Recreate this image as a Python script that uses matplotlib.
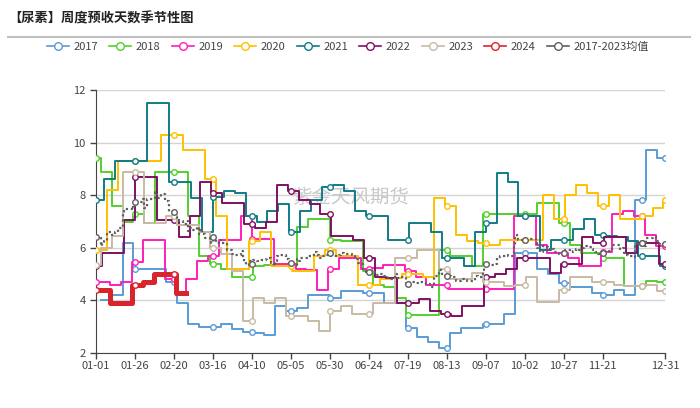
import numpy as np
import pandas as pd
import matplotlib
matplotlib.use('Agg')
import matplotlib.pyplot as plt
from matplotlib.lines import Line2D

plt.rcParams['font.family'] = ['Noto Sans CJK SC', 'DejaVu Sans']

title = '【尿素】周度预收天数季节性图'
watermark = '紫金天风期货'

# x axis: calendar days of a leap year, labels every 25 days
dates = pd.date_range('2024-01-01', '2024-12-31')
tick_idx = list(range(0, 330, 25)) + [365]
tick_labels = [dates[i].strftime('%m-%d') for i in tick_idx]
marker_idx = list(range(0, 365, 25)) + [365]

years = ['2017', '2018', '2019', '2020', '2021', '2022', '2023', '2024']
colors = ['#5b9bd5', '#53cf2f', '#ff1fb9', '#ffc000', '#117c86', '#7e1162', '#c8baa4', '#d9242b']
avg_label = '2017-2023均值'

# first day (day index) of each weekly series, then weekly values
starts = [3, -4.5, -5.5, 0, -2, -3, -4.5, -5]

v2017 = [4.0, 4.2, 6.2, 5.2, 5.2, 5.2, 4.7, 3.9, 3.1, 3.0, 3.0, 3.1, 2.9, 2.8, 2.75, 2.7, 3.8, 3.6,
         3.7, 4.2, 4.2, 4.1, 4.35, 4.35, 4.3, 4.3, 3.9, 3.9, 2.95, 2.6, 2.4, 2.2, 2.75, 2.95, 2.95,
         3.1, 3.1, 3.5, 5.8, 5.8, 5.2, 5.0, 4.65, 4.5, 4.5, 4.3, 4.2, 4.4, 4.2, 7.8, 9.7, 9.4]
v2018 = [9.4, 8.9, 7.6, 7.0, 7.3, 6.95, 8.9, 8.9, 8.9, 7.2, 5.7, 5.4, 5.2, 4.9, 4.9, 5.3, 5.35, 5.4,
         5.4, 6.8, 7.1, 7.1, 6.3, 6.25, 6.25, 5.1, 4.6, 4.5, 4.1, 3.45, 3.45, 3.45, 5.9, 5.7, 5.7,
         5.3, 7.3, 7.3, 7.3, 7.3, 7.3, 7.7, 7.7, 6.95, 6.1, 5.8, 5.8, 5.6, 5.6, 4.55, 4.55, 4.75, 4.7]
v2019 = [4.7, 4.7, 4.6, 4.7, 5.45, 6.3, 6.3, 4.8, 4.2, 4.8, 5.5, 5.7, 6.3, 6.3, 7.2, 6.35, 6.35, 5.4,
         5.4, 5.2, 5.15, 4.4, 5.2, 5.6, 5.6, 5.2, 5.25, 5.35, 5.35, 5.1, 4.9, 4.6, 4.6, 4.45, 4.45,
         4.45, 4.45, 4.45, 4.45, 7.2, 7.2, 6.1, 5.8, 5.8, 5.6, 5.3, 5.3, 5.85, 7.3, 7.4, 7.2, 6.5, 6.05]
v2020 = [5.9, 8.2, 9.3, 9.3, 9.3, 9.3, 10.3, 10.3, 9.7, 9.7, 8.6, 7.2, 5.2, 5.2, 6.25, 6.6, 5.3, 5.3,
         5.1, 5.1, 5.7, 5.9, 5.7, 5.7, 4.6, 4.6, 4.8, 4.85, 5.0, 5.0, 4.9, 7.9, 7.6, 6.5, 6.25, 6.2,
         6.1, 6.3, 6.3, 6.3, 6.3, 8.0, 7.1, 8.0, 8.4, 8.1, 7.6, 8.0, 7.1, 7.1, 7.2, 7.5, 7.8]
v2021 = [7.8, 8.6, 9.3, 9.3, 9.3, 11.5, 11.5, 8.5, 8.5, 7.9, 6.6, 7.95, 8.15, 8.1, 7.2, 7.0, 7.4, 7.65,
         6.6, 7.4, 7.8, 8.3, 8.4, 8.15, 7.4, 7.2, 7.2, 6.3, 6.3, 6.95, 6.95, 6.6, 5.6, 5.6, 5.3, 6.6,
         6.95, 8.85, 8.5, 7.2, 7.2, 5.9, 6.3, 6.3, 6.7, 7.1, 6.5, 6.45, 6.4, 6.25, 5.7, 5.7, 5.3]
v2022 = [5.3, 5.8, 5.8, 7.05, 8.7, 8.7, 7.05, 7.05, 6.4, 7.2, 8.5, 8.1, 7.7, 7.7, 6.9, 6.75, 7.0, 8.4,
         8.15, 7.8, 7.65, 7.3, 6.45, 6.45, 6.3, 5.6, 4.9, 4.85, 3.9, 3.9, 4.05, 3.6, 3.5, 3.4, 3.8, 3.8,
         4.9, 5.0, 5.2, 5.6, 5.6, 5.6, 5.05, 5.4, 5.4, 6.4, 6.2, 6.4, 6.4, 5.8, 6.2, 6.2, 5.4]
v2023 = [5.35, 6.0, 6.45, 8.9, 8.9, 6.95, 6.95, 7.2, 6.85, 6.85, 6.6, 6.0, 5.75, 5.1, 3.2, 4.1, 3.9, 4.1,
         3.4, 3.4, 3.2, 2.85, 3.6, 3.8, 3.5, 3.5, 3.9, 3.9, 5.6, 5.6, 5.9, 5.9, 5.2, 4.8, 4.8, 5.05,
         4.7, 4.7, 4.55, 4.6, 4.9, 3.95, 3.95, 4.4, 4.9, 4.9, 4.7, 4.7, 4.6, 4.55, 4.55, 4.6, 4.35]
v2024 = [4.4, 4.4, 3.9, 3.9, 4.6, 4.7, 5.0, 5.0, 4.3]

weekly = [v2017, v2018, v2019, v2020, v2021, v2022, v2023, v2024]

x = np.arange(len(dates))


def daily(values, start):
    """forward fill weekly values over calendar days"""
    out = np.full(len(x), np.nan)
    k = np.floor((x - start) / 7).astype(int)
    ok = (k >= 0) & (k < len(values))
    out[ok] = np.asarray(values)[k[ok]]
    return out


series = [daily(v, s) for v, s in zip(weekly, starts)]
avg = np.nanmean(np.vstack(series[:7]), axis=0)

fig = plt.figure(figsize=(7, 4.08), dpi=100)
ax = fig.add_axes([96 / 700, 1 - 353 / 408, 569 / 700, 263 / 408])

ax.text(0.448, 0.59, watermark, transform=ax.transAxes, fontsize=14, color='#c8c8c8',
        ha='center', va='center', zorder=1)

for i in range(7):
    ax.plot(x, series[i], drawstyle='steps-post', color=colors[i], lw=1.4, zorder=3,
            marker='o', markevery=marker_idx, ms=4, mfc='white', mec=colors[i], mew=1)
ax.plot(x, avg, drawstyle='steps-post', color='#5f5f5f', lw=1.6, ls=(0, (1, 1.3)), zorder=4,
        marker='o', markevery=marker_idx, ms=4, mfc='white', mec='#5f5f5f', mew=1)
ax.plot(x, series[7], drawstyle='steps-post', color=colors[7], lw=3.6, zorder=5,
        marker='o', markevery=marker_idx, ms=4, mfc='white', mec=colors[7], mew=1)

ax.set_xlim(0, 365)
ax.set_ylim(2, 12)
ax.set_yticks([2, 4, 6, 8, 10, 12])
ax.set_xticks(tick_idx)
ax.set_xticklabels(tick_labels)
ax.yaxis.grid(True, color='#d4d4d4', lw=1)
ax.set_axisbelow(True)
for side in ['top', 'right']:
    ax.spines[side].set_visible(False)
for side in ['left', 'bottom']:
    ax.spines[side].set_color('#444444')
ax.tick_params(axis='both', labelsize=8, colors='#444444', length=4, width=1)
ax.tick_params(axis='x', pad=2)

fig.text(8 / 700, 1 - 18 / 408, title, fontsize=9.5, fontweight='bold', va='center', color='#222222')
fig.add_artist(Line2D([8 / 700, 690 / 700], [1 - 37 / 408] * 2, color='#c0c0c0', lw=1.5))

handles = [Line2D([], [], color=c, lw=1.2, marker='o', ms=5.5, mfc='white', mec=c) for c in colors]
handles.append(Line2D([], [], color='#5f5f5f', lw=1.2, marker='o', ms=5.5, mfc='white', mec='#5f5f5f'))
fig.legend(handles, years + [avg_label], loc='center', bbox_to_anchor=(0.497, 1 - 47 / 408), ncol=9,
           frameon=False, fontsize=8, handlelength=2.0, handletextpad=0.4, columnspacing=1.0,
           labelcolor='#444444')

fig.savefig('out.png', dpi=100)
